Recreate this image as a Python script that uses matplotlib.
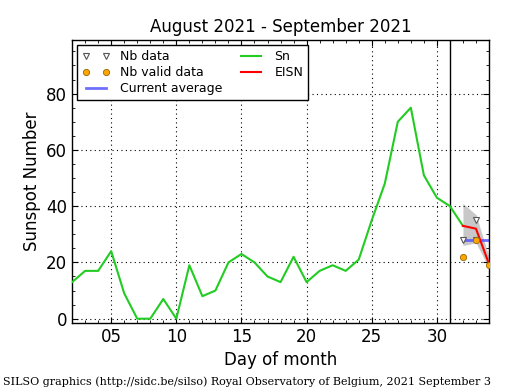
import matplotlib
matplotlib.use("Agg")
import matplotlib.pyplot as plt
from matplotlib.ticker import MultipleLocator, FixedLocator

# Data
sn_days = [2, 3, 4, 5, 6, 7, 8, 9, 10, 11, 12, 13, 14, 15, 16, 17, 18, 19, 20,
           21, 22, 23, 24, 25, 26, 27, 28, 29, 30, 31, 32]
sn_vals = [13, 17, 17, 24, 9, 0, 0, 7, 0, 19, 8, 10, 20, 23, 20, 15, 13, 22, 13,
           17, 19, 17, 21, 35, 48, 70, 75, 51, 43, 40, 33]
eisn_days = [32, 33, 34]
eisn_vals = [33, 32, 19.5]
band_low = [26, 27, 18]
band_high = [41, 37, 22]
nb_days = [32, 33, 33]
nb_vals = [28, 35, 28]
valid_days = [32, 33, 34]
valid_vals = [22, 28, 19]
avg_days = [32, 34]
avg_vals = [28, 28]
xticks = [5, 10, 15, 20, 25, 30]
xticklabels = ["05", "10", "15", "20", "25", "30"]
yticks = [0, 20, 40, 60, 80]

fig = plt.figure(figsize=(5.15, 3.9), dpi=100)
ax = fig.add_axes([0.140, 0.172, 0.8095, 0.725])

ax.fill_between(eisn_days, band_low, band_high, color="#bbbbbb", alpha=0.8, lw=0, zorder=1)
ax.plot(sn_days, sn_vals, color="#22cc22", lw=1.5, label="Sn", zorder=3)
ax.plot(avg_days, avg_vals, color="#5555ff", lw=2, alpha=0.85, label="Current average", zorder=2)
ax.plot(eisn_days, eisn_vals, color="red", lw=1.5, label="EISN", zorder=4)
ax.plot(nb_days, nb_vals, linestyle="none", marker="v", markersize=4.5,
        markerfacecolor="white", markeredgecolor="#555555", markeredgewidth=0.8,
        label="Nb data", zorder=5)
ax.plot(valid_days, valid_vals, linestyle="none", marker="o", markersize=4.5,
        markerfacecolor="orange", markeredgecolor="#996600", markeredgewidth=0.6,
        label="Nb valid data", zorder=6)
ax.axvline(31, color="black", lw=1, zorder=2)

ax.set_xlim(2, 34)
ax.set_ylim(-1.5, 99)
ax.xaxis.set_major_locator(FixedLocator(xticks))
ax.set_xticklabels(xticklabels)
ax.xaxis.set_minor_locator(MultipleLocator(1))
ax.yaxis.set_major_locator(FixedLocator(yticks))
ax.yaxis.set_minor_locator(MultipleLocator(5))
ax.tick_params(which="both", direction="in", top=True, right=True, labelsize=12)
ax.tick_params(which="major", length=4)
ax.tick_params(which="minor", length=2)
ax.grid(True, which="major", color="black", linestyle=(0, (1, 3)), lw=0.8)
for s in ax.spines.values():
    s.set_linewidth(1)

ax.set_title("August 2021 - September 2021", fontsize=12)
ax.set_xlabel("Day of month", fontsize=12)
ax.set_ylabel("Sunspot Number", fontsize=12)

handles, labels = ax.get_legend_handles_labels()
order = ["Nb data", "Nb valid data", "Current average", "Sn", "EISN"]
hmap = dict(zip(labels, handles))
leg = ax.legend([hmap[k] for k in order], order, loc="upper left", ncol=2,
                fontsize=9, numpoints=2, fancybox=False, framealpha=1,
                edgecolor="black", borderaxespad=0.4, handlelength=2.2,
                columnspacing=1.2, labelspacing=0.25, borderpad=0.4)
leg.get_frame().set_linewidth(1)

fig.text(0.005, 0.012, "SILSO graphics (http://sidc.be/silso) Royal Observatory of Belgium, 2021 September 3",
         family="DejaVu Serif", fontsize=8)

fig.savefig("out.png", dpi=100)
